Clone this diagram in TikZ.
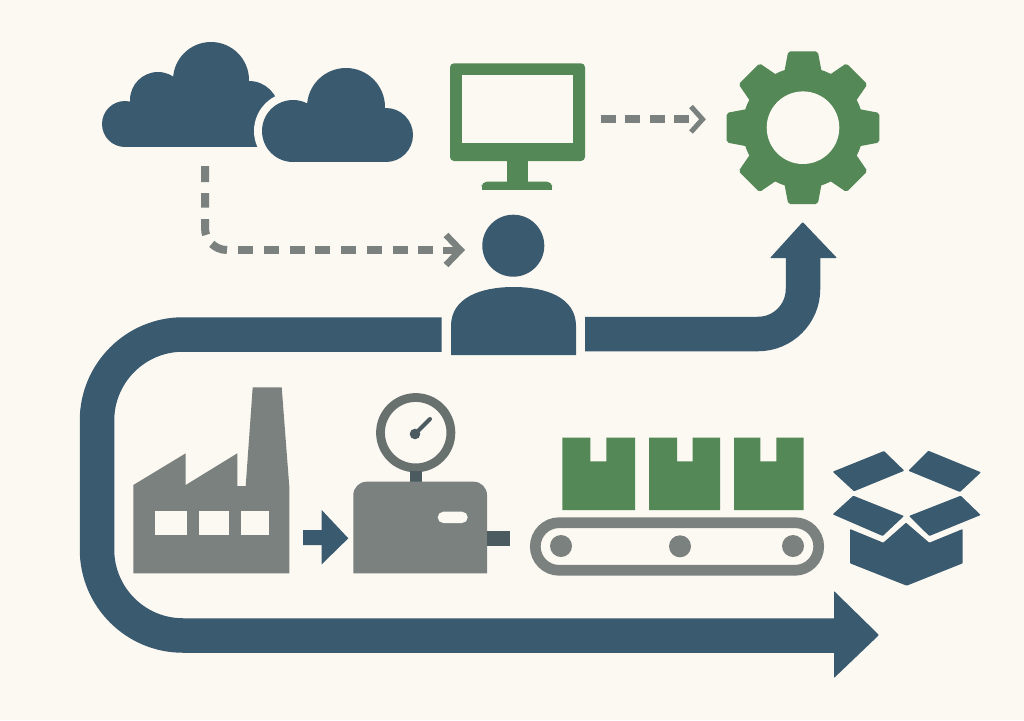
\documentclass[tikz,border=0pt]{standalone}
\definecolor{paper}{HTML}{FCF9F2}
\definecolor{navy}{HTML}{3A5A70}
\definecolor{leaf}{HTML}{548856}
\definecolor{steel}{HTML}{7B817F}
\definecolor{steeldark}{HTML}{69716F}
\definecolor{slate}{HTML}{4B5B60}
\tikzset{
  dashline/.style={draw=steel,line width=8pt},
  chevron/.style={draw=steel,line width=5pt,miter limit=10},
  flow/.style={draw=navy,line width=34.5pt},
  soft/.style={rounded corners=0.8pt}
}
\begin{document}
\begin{tikzpicture}[x=1pt,y=-1pt,line join=miter]
\useasboundingbox[fill=paper] (0,0) rectangle (1024,720);

% connector anchor points
\coordinate (cloudout) at (205,166);
\coordinate (bendend) at (227,250);
\coordinate (dashstart) at (238.3,250);
\coordinate (userin) at (460.5,250);
\coordinate (screenout) at (600.7,119.3);
\coordinate (gearin) at (702.5,119.3);
\coordinate (flowa) at (441.5,334.5);
\coordinate (flowb) at (835,635.5);
\coordinate (flowc) at (585,334);
\coordinate (flowd) at (803,258);

% clouds
\fill[navy] (125,124) circle (23) (158,100) circle (28) (211,80) circle (38) (249,111) circle (30);
\fill[navy] (125,115) rectangle (285,147);
\fill[navy] (160,90) rectangle (250,120);
\fill[paper] (293,131) circle (39);
\fill[paper] (262,147) rectangle (300,170);
\fill[navy] (293,131) circle (31) (346,107) circle (39) (386,135) circle (27);
\fill[navy] (293,125) rectangle (386,162);

% monitor
\fill[leaf,rounded corners=4pt] (450,63.3) rectangle (585,161);
\fill[paper] (461.7,75) rectangle (573.3,142.7);
\fill[leaf] (507.3,158) rectangle (528.3,185);
\fill[leaf,rounded corners=5pt] (481.7,189.5) -- (481.7,181.7) -- (552,181.7) -- (552,189.5) -- cycle;
\fill[leaf] (481.7,186) rectangle (552,189.5);

% gear
\begin{scope}[shift={(803,127.7)}]
  \fill[leaf] (0,0) circle (60.5);
  \foreach \a in {0,45,...,315}{
    \fill[leaf,rotate=\a,rounded corners=2pt] (-19,-54) -- (-14.8,-76.3) -- (14.8,-76.3) -- (19,-54) -- cycle;
  }
  \fill[paper] (0,0) circle (36.3);
\end{scope}

% dashed connectors
\draw[dashline,dash pattern=on 16 off 11 on 14.5 off 11.5 on 16 off 10.7 on 17.6 off 20]
  (cloudout) -- (205,228) .. controls (205,240.15) and (214.85,250) .. (bendend);
\draw[dashline,dash pattern=on 15 off 10.7] (dashstart) -- (433,250);
\draw[draw=steel,line width=6.5pt] (446,235) -- (userin) -- (446,265);
\draw[draw=steel,line width=7pt] (443,250) -- (userin);
\draw[dashline,dash pattern=on 14.8 off 9.7] (screenout) -- (689,119.3);
\draw[chevron] (691,106.5) -- (gearin) -- (691,132);

% main flow with its arrowheads
\draw[flow] (flowa) -- (183,334.5) .. controls (135.5,334.5) and (97,373) .. (97,420.5)
  -- (97,549.5) .. controls (97,597) and (135.5,635.5) .. (183,635.5) -- (flowb);
\fill[navy,soft] (834,591) -- (879,635) -- (834,678) -- cycle;
\draw[flow] (flowc) -- (758,334) .. controls (782.9,334) and (803,313.9) .. (803,289) -- (flowd);
\fill[navy,soft] (802.7,222) -- (837,258) -- (770,258) -- cycle;

% user
\fill[navy] (513.3,245.7) circle (31);
\fill[navy] (451,355) -- (451,326) .. controls (451,298) and (480,287) .. (513.5,287)
  .. controls (547,287) and (576,298) .. (576,326) -- (576,355) -- cycle;

% factory
\fill[steel] (133.3,485) -- (185.7,453.3) -- (185.7,485) -- (237.3,453.3) -- (237.3,486) -- (245.7,486)
  -- (252.7,387.3) -- (281.7,387.3) -- (289.3,486.7) -- (289.3,573.3) -- (133.3,573.3) -- cycle;
\fill[paper] (154.7,511) rectangle (187,535);
\fill[paper] (198.7,511) rectangle (229,534.5);
\fill[paper] (240.7,511) rectangle (269.3,534.5);

% small arrow
\fill[navy] (303,530) -- (321.7,530) -- (321.7,510) -- (348.3,538.3) -- (321.7,564.3) -- (321.7,545) -- (303,545) -- cycle;

% gauge machine
\draw[steeldark,line width=8.8pt] (415.7,432.7) circle (35.2);
\fill[slate] (410,471) rectangle (421.7,483);
\draw[slate,line width=4pt,line cap=round] (415,434) -- (430,419);
\fill[slate] (415,434) circle (5.3);
\fill[steel] (353.3,573.3) -- (353.3,495) .. controls (353.3,487.7) and (359.3,481.7) .. (366.6,481.7)
  -- (473.7,481.7) .. controls (481,481.7) and (487,487.7) .. (487,495) -- (487,573.3) -- cycle;
\fill[paper,rounded corners=5.6pt] (437.7,511.7) rectangle (467.7,523);
\fill[slate] (487.3,530.7) rectangle (510,545.7);

% parcels
\foreach \l/\nl/\nr/\r in {562.3/590.3/606.3/635, 649/677/692.7/720, 734/760.3/776.3/803.7}{
  \fill[leaf] (\l,437.7) -- (\nl,437.7) -- (\nl,461.3) -- (\nr,461.3) -- (\nr,437.7) -- (\r,437.7) -- (\r,510) -- (\l,510) -- cycle;
}

% conveyor
\draw[steel,line width=10.7pt,rounded corners=23.8pt] (535.3,522.7) rectangle (818.7,570.3);
\fill[steel] (561,546) circle (11) (680,546.3) circle (11) (793,546) circle (11);

% open box
\fill[navy,soft] (832.7,471.7) -- (884,451) -- (904.3,470.7) -- (854,491.3) -- cycle;
\fill[navy,soft] (908.3,470.7) -- (928.3,450.7) -- (981,472.3) -- (960,492) -- cycle;
\fill[navy,soft] (832.7,514.3) -- (853.3,495.7) -- (904,516) -- (882.7,536) -- cycle;
\fill[navy,soft] (909,516) -- (960.7,495.7) -- (980.7,515) -- (929.3,536) -- cycle;
\fill[navy,soft] (850,529) -- (883.3,542.7) -- (906,522.7) -- (929.3,542.7) -- (962.7,529)
  -- (962.7,563.3) -- (906.7,585.7) -- (850,563.3) -- cycle;
\end{tikzpicture}
\end{document}
